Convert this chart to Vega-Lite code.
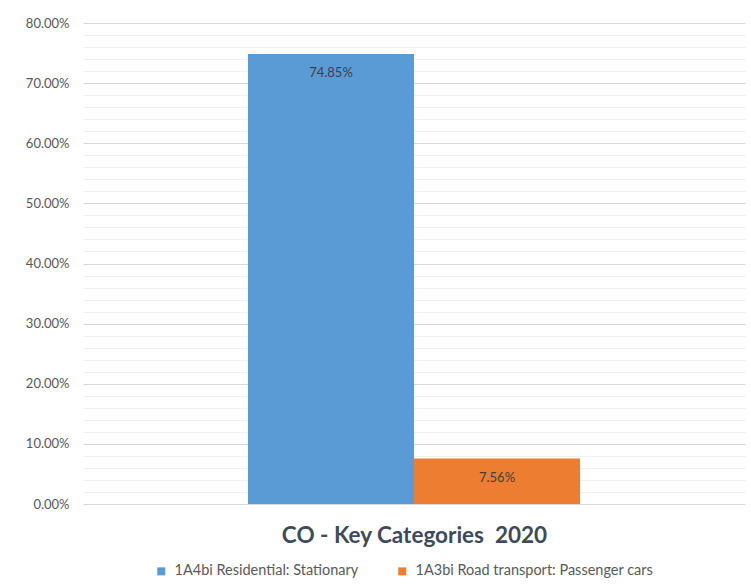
{
  "$schema": "https://vega.github.io/schema/vega-lite/v6.json",
  "width": 662,
  "height": 481,
  "autosize": {"type": "none"},
  "padding": {"left": 83, "top": 23, "right": 6, "bottom": 84},
  "background": "white",
  "config": {"view": {"stroke": null}, "font": "Lato"},
  "data": {
    "values": [
      {"series": "1A4bi Residential: Stationary", "value": 0.7485},
      {"series": "1A3bi Road transport: Passenger cars", "value": 0.0756}
    ]
  },
  "encoding": {
    "x": {
      "field": "series",
      "type": "nominal",
      "sort": null,
      "scale": {"paddingInner": 0, "paddingOuter": 0.994},
      "axis": {
        "labels": false,
        "ticks": false,
        "domain": false,
        "title": "CO - Key Categories\u00a0\u00a02020",
        "titleFontSize": 22.5,
        "titleFontWeight": "bold",
        "titleColor": "#3f4a59",
        "titlePadding": 20
      }
    },
    "y": {
      "field": "value",
      "type": "quantitative",
      "scale": {"domain": [0, 0.8], "nice": false},
      "axis": {
        "title": null,
        "values": [0, 0.02, 0.04, 0.06, 0.08, 0.1, 0.12, 0.14, 0.16, 0.18, 0.2, 0.22, 0.24, 0.26, 0.28, 0.3, 0.32, 0.34, 0.36, 0.38, 0.4, 0.42, 0.44, 0.46, 0.48, 0.5, 0.52, 0.54, 0.56, 0.58, 0.6, 0.62, 0.64, 0.66, 0.68, 0.7, 0.72, 0.74, 0.76, 0.78, 0.8],
        "format": ".2%",
        "labelExpr": "round(datum.value*100) % 10 === 0 ? datum.label : ''",
        "ticks": false,
        "domain": false,
        "labelPadding": 14,
        "labelFontSize": 13,
        "labelColor": "#595959",
        "gridColor": {"condition": {"test": "round(datum.value*100) % 10 === 0", "value": "#d9d9d9"}, "value": "#f0f0f0"},
        "gridWidth": 1
      }
    }
  },
  "layer": [
    {
      "mark": {"type": "bar"},
      "encoding": {
        "color": {
          "field": "series",
          "type": "nominal",
          "sort": null,
          "scale": {"range": ["#5B9BD5", "#ED7D31"]},
          "legend": {
            "title": null,
            "orient": "none",
            "legendX": 71,
            "legendY": 541,
            "direction": "horizontal",
            "symbolType": "square",
            "symbolSize": 64,
            "labelOffset": 6,
            "labelFontSize": 14.5,
            "labelLimit": 0,
            "labelColor": "#595959",
            "columnPadding": 36
          }
        }
      }
    },
    {
      "mark": {"type": "text", "dy": 19, "baseline": "middle", "fontSize": 13, "color": "#404040"},
      "encoding": {"text": {"field": "value", "type": "quantitative", "format": ".2%"}}
    }
  ]
}
